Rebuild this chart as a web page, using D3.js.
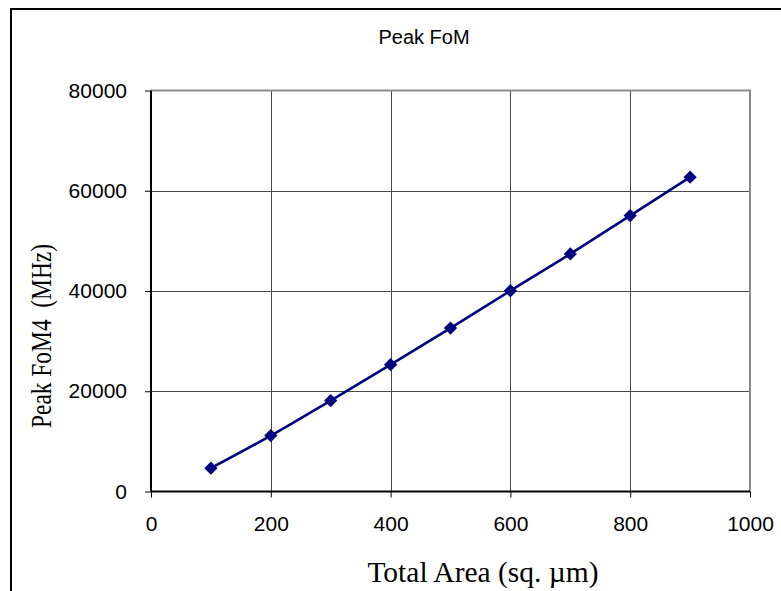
<!DOCTYPE html>
<html>
<head>
<meta charset="utf-8">
<script src="https://cdn.jsdelivr.net/npm/d3@7"></script>
<style>
  html, body { margin: 0; padding: 0; background: #fff; }
  svg { display: block; }
</style>
</head>
<body>
<script>
// Peak FoM4 versus total device area
const areas = [100, 200, 300, 400, 500, 600, 700, 800, 900];
const peakFoM = [4650, 11150, 18150, 25300, 32600, 40050, 47400, 55050, 62700];
const xTicks = [0, 200, 400, 600, 800, 1000];
const yTicks = [0, 20000, 40000, 60000, 80000];

const W = 781, H = 591;
const plot = { left: 151, right: 750, top: 90.5, bottom: 491.5 };

const svg = d3.select("body").append("svg")
  .attr("width", W).attr("height", H);

// outer chart frame (runs off the right and bottom edges)
svg.append("rect")
  .attr("x", 11).attr("y", 9)
  .attr("width", W + 20).attr("height", H + 20)
  .attr("fill", "#fff").attr("stroke", "#000").attr("stroke-width", 2);

const x = d3.scaleLinear().domain([0, 1000]).range([plot.left, plot.right]);
const y = d3.scaleLinear().domain([0, 80000]).range([plot.bottom, plot.top]);

// grid lines
const grid = svg.append("g").attr("stroke", "#4a4a4a").attr("stroke-width", 1);
grid.selectAll("line.v").data(xTicks.slice(1, -1)).join("line")
  .attr("x1", d => Math.round(x(d)) + 0.5).attr("x2", d => Math.round(x(d)) + 0.5)
  .attr("y1", plot.top).attr("y2", plot.bottom);
grid.selectAll("line.h").data(yTicks.slice(1, -1)).join("line")
  .attr("y1", d => Math.round(y(d)) + 0.5).attr("y2", d => Math.round(y(d)) + 0.5)
  .attr("x1", plot.left).attr("x2", plot.right);

// top and right borders of the plot area
svg.append("path")
  .attr("d", `M${plot.left},${plot.top}H${plot.right}V${plot.bottom}`)
  .attr("fill", "none").attr("stroke", "#8c8c8c").attr("stroke-width", 2);

// axes
const plain = d3.format("d");
const xAxis = d3.axisBottom(x).tickValues(xTicks).tickSize(6).tickPadding(19)
  .tickFormat(plain);
const yAxis = d3.axisLeft(y).tickValues(yTicks).tickSize(6).tickPadding(18)
  .tickFormat(plain);

const gx = svg.append("g").attr("transform", `translate(0,${plot.bottom})`).call(xAxis);
const gy = svg.append("g").attr("transform", `translate(${plot.left},0)`).call(yAxis);

[gx, gy].forEach(g => {
  g.select(".domain").attr("stroke", "#000").attr("stroke-width", 2);
  g.selectAll(".tick line").attr("stroke", "#000").attr("stroke-width", 1);
  g.selectAll(".tick text")
    .attr("fill", "#000")
    .style("font-family", "'Liberation Sans', Arial, sans-serif")
    .style("font-size", "21px");
});
gx.select(".domain").attr("d", `M${plot.left},0H${plot.right}`);
gy.select(".domain").attr("d", `M0,${plot.bottom}V${plot.top}`);

// data line and diamond markers
const line = d3.line().x((d, i) => x(areas[i])).y(d => y(d)).curve(d3.curveMonotoneX);
svg.append("path")
  .datum(peakFoM)
  .attr("d", line)
  .attr("fill", "none").attr("stroke", "#000080").attr("stroke-width", 2.6);

const diamond = d3.symbol().type(d3.symbolDiamond2).size(112);
svg.selectAll("path.marker").data(peakFoM).join("path")
  .attr("class", "marker")
  .attr("d", diamond)
  .attr("transform", (d, i) => `translate(${x(areas[i])},${y(d)})`)
  .attr("fill", "#000080");

// titles
svg.append("text")
  .attr("x", 424).attr("y", 44)
  .attr("text-anchor", "middle")
  .style("font-family", "'Liberation Sans', Arial, sans-serif")
  .style("font-size", "20px")
  .text("Peak FoM");

svg.append("text")
  .attr("x", 483).attr("y", 582)
  .attr("text-anchor", "middle")
  .style("font-family", "'Liberation Serif', 'Times New Roman', serif")
  .style("font-size", "29.5px")
  .text("Total Area (sq. µm)");

svg.append("text")
  .attr("transform", "translate(51,336) rotate(-90)")
  .attr("text-anchor", "middle")
  .attr("textLength", 184)
  .attr("lengthAdjust", "spacingAndGlyphs")
  .style("font-family", "'Liberation Serif', 'Times New Roman', serif")
  .style("font-size", "29px")
  .style("white-space", "pre")
  .attr("xml:space", "preserve")
  .text("Peak FoM4  (MHz)");
</script>
</body>
</html>
